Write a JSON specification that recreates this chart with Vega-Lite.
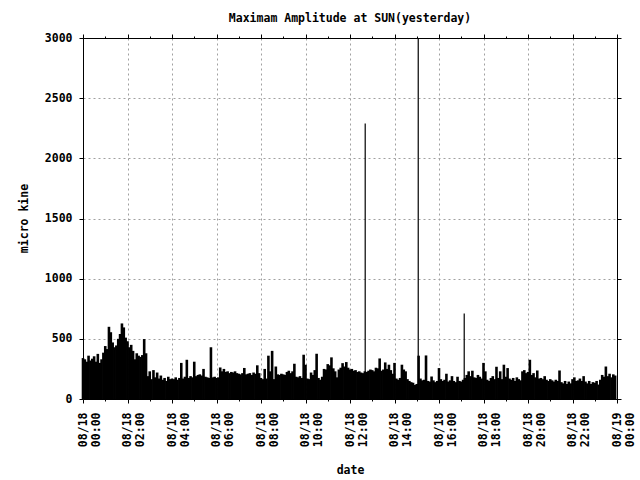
{
  "$schema": "https://vega.github.io/schema/vega-lite/v6.json",
  "width": 534,
  "height": 361,
  "autosize": {"type": "none"},
  "padding": {"left": 83, "top": 38, "right": 23, "bottom": 81},
  "background": "white",
  "title": {
    "text": "Maximam Amplitude at SUN(yesterday)",
    "anchor": "middle",
    "offset": 8,
    "font": "DejaVu Sans Mono",
    "fontSize": 11.5,
    "fontWeight": "bold",
    "color": "black"
  },
  "config": {
    "view": {"stroke": "black", "strokeWidth": 1},
    "axis": {
      "domainColor": "black",
      "tickColor": "black",
      "tickSize": 4,
      "gridColor": "#a0a0a0",
      "gridDash": [2, 3],
      "labelFont": "DejaVu Sans Mono",
      "labelFontSize": 11.5,
      "labelFontWeight": "bold",
      "labelColor": "black",
      "titleFont": "DejaVu Sans Mono",
      "titleFontSize": 11.5,
      "titleFontWeight": "bold",
      "titleColor": "black"
    }
  },
  "data": {
    "values": [
      {"t":"2024-08-18T00:00","v":340},{"t":"2024-08-18T00:05","v":330},{"t":"2024-08-18T00:10","v":310},{"t":"2024-08-18T00:15","v":360},{"t":"2024-08-18T00:20","v":320},{"t":"2024-08-18T00:25","v":335},{"t":"2024-08-18T00:30","v":355},{"t":"2024-08-18T00:35","v":310},{"t":"2024-08-18T00:40","v":375},{"t":"2024-08-18T00:45","v":300},{"t":"2024-08-18T00:50","v":330},{"t":"2024-08-18T00:55","v":385},
      {"t":"2024-08-18T01:00","v":440},{"t":"2024-08-18T01:05","v":415},{"t":"2024-08-18T01:10","v":600},{"t":"2024-08-18T01:15","v":555},{"t":"2024-08-18T01:20","v":470},{"t":"2024-08-18T01:25","v":430},{"t":"2024-08-18T01:30","v":445},{"t":"2024-08-18T01:35","v":500},{"t":"2024-08-18T01:40","v":540},{"t":"2024-08-18T01:45","v":628},{"t":"2024-08-18T01:50","v":595},{"t":"2024-08-18T01:55","v":510},
      {"t":"2024-08-18T02:00","v":480},{"t":"2024-08-18T02:05","v":430},{"t":"2024-08-18T02:10","v":450},{"t":"2024-08-18T02:15","v":400},{"t":"2024-08-18T02:20","v":330},{"t":"2024-08-18T02:25","v":380},{"t":"2024-08-18T02:30","v":360},{"t":"2024-08-18T02:35","v":350},{"t":"2024-08-18T02:40","v":365},{"t":"2024-08-18T02:45","v":498},{"t":"2024-08-18T02:50","v":380},{"t":"2024-08-18T02:55","v":190},
      {"t":"2024-08-18T03:00","v":230},{"t":"2024-08-18T03:05","v":165},{"t":"2024-08-18T03:10","v":240},{"t":"2024-08-18T03:15","v":180},{"t":"2024-08-18T03:20","v":220},{"t":"2024-08-18T03:25","v":170},{"t":"2024-08-18T03:30","v":195},{"t":"2024-08-18T03:35","v":160},{"t":"2024-08-18T03:40","v":175},{"t":"2024-08-18T03:45","v":150},{"t":"2024-08-18T03:50","v":185},{"t":"2024-08-18T03:55","v":165},
      {"t":"2024-08-18T04:00","v":170},{"t":"2024-08-18T04:05","v":165},{"t":"2024-08-18T04:10","v":180},{"t":"2024-08-18T04:15","v":160},{"t":"2024-08-18T04:20","v":175},{"t":"2024-08-18T04:25","v":300},{"t":"2024-08-18T04:30","v":170},{"t":"2024-08-18T04:35","v":185},{"t":"2024-08-18T04:40","v":326},{"t":"2024-08-18T04:45","v":175},{"t":"2024-08-18T04:50","v":190},{"t":"2024-08-18T04:55","v":180},
      {"t":"2024-08-18T05:00","v":310},{"t":"2024-08-18T05:05","v":190},{"t":"2024-08-18T05:10","v":200},{"t":"2024-08-18T05:15","v":205},{"t":"2024-08-18T05:20","v":195},{"t":"2024-08-18T05:25","v":250},{"t":"2024-08-18T05:30","v":185},{"t":"2024-08-18T05:35","v":180},{"t":"2024-08-18T05:40","v":175},{"t":"2024-08-18T05:45","v":430},{"t":"2024-08-18T05:50","v":180},{"t":"2024-08-18T05:55","v":185},
      {"t":"2024-08-18T06:00","v":175},{"t":"2024-08-18T06:05","v":180},{"t":"2024-08-18T06:10","v":262},{"t":"2024-08-18T06:15","v":230},{"t":"2024-08-18T06:20","v":250},{"t":"2024-08-18T06:25","v":225},{"t":"2024-08-18T06:30","v":230},{"t":"2024-08-18T06:35","v":215},{"t":"2024-08-18T06:40","v":225},{"t":"2024-08-18T06:45","v":220},{"t":"2024-08-18T06:50","v":230},{"t":"2024-08-18T06:55","v":215},
      {"t":"2024-08-18T07:00","v":210},{"t":"2024-08-18T07:05","v":205},{"t":"2024-08-18T07:10","v":215},{"t":"2024-08-18T07:15","v":258},{"t":"2024-08-18T07:20","v":205},{"t":"2024-08-18T07:25","v":210},{"t":"2024-08-18T07:30","v":215},{"t":"2024-08-18T07:35","v":200},{"t":"2024-08-18T07:40","v":220},{"t":"2024-08-18T07:45","v":210},{"t":"2024-08-18T07:50","v":280},{"t":"2024-08-18T07:55","v":215},
      {"t":"2024-08-18T08:00","v":175},{"t":"2024-08-18T08:05","v":165},{"t":"2024-08-18T08:10","v":250},{"t":"2024-08-18T08:15","v":170},{"t":"2024-08-18T08:20","v":360},{"t":"2024-08-18T08:25","v":230},{"t":"2024-08-18T08:30","v":400},{"t":"2024-08-18T08:35","v":165},{"t":"2024-08-18T08:40","v":270},{"t":"2024-08-18T08:45","v":205},{"t":"2024-08-18T08:50","v":200},{"t":"2024-08-18T08:55","v":210},
      {"t":"2024-08-18T09:00","v":205},{"t":"2024-08-18T09:05","v":200},{"t":"2024-08-18T09:10","v":225},{"t":"2024-08-18T09:15","v":235},{"t":"2024-08-18T09:20","v":215},{"t":"2024-08-18T09:25","v":230},{"t":"2024-08-18T09:30","v":293},{"t":"2024-08-18T09:35","v":185},{"t":"2024-08-18T09:40","v":180},{"t":"2024-08-18T09:45","v":190},{"t":"2024-08-18T09:50","v":175},{"t":"2024-08-18T09:55","v":368},
      {"t":"2024-08-18T10:00","v":285},{"t":"2024-08-18T10:05","v":170},{"t":"2024-08-18T10:10","v":165},{"t":"2024-08-18T10:15","v":220},{"t":"2024-08-18T10:20","v":200},{"t":"2024-08-18T10:25","v":240},{"t":"2024-08-18T10:30","v":376},{"t":"2024-08-18T10:35","v":175},{"t":"2024-08-18T10:40","v":160},{"t":"2024-08-18T10:45","v":185},{"t":"2024-08-18T10:50","v":250},{"t":"2024-08-18T10:55","v":245},
      {"t":"2024-08-18T11:00","v":290},{"t":"2024-08-18T11:05","v":280},{"t":"2024-08-18T11:10","v":346},{"t":"2024-08-18T11:15","v":255},{"t":"2024-08-18T11:20","v":230},{"t":"2024-08-18T11:25","v":180},{"t":"2024-08-18T11:30","v":245},{"t":"2024-08-18T11:35","v":260},{"t":"2024-08-18T11:40","v":298},{"t":"2024-08-18T11:45","v":270},{"t":"2024-08-18T11:50","v":307},{"t":"2024-08-18T11:55","v":260},
      {"t":"2024-08-18T12:00","v":245},{"t":"2024-08-18T12:05","v":250},{"t":"2024-08-18T12:10","v":235},{"t":"2024-08-18T12:15","v":240},{"t":"2024-08-18T12:20","v":225},{"t":"2024-08-18T12:25","v":230},{"t":"2024-08-18T12:30","v":220},{"t":"2024-08-18T12:35","v":215},{"t":"2024-08-18T12:40","v":230},{"t":"2024-08-18T12:41","v":2290},{"t":"2024-08-18T12:45","v":225},{"t":"2024-08-18T12:50","v":235},{"t":"2024-08-18T12:55","v":245},
      {"t":"2024-08-18T13:00","v":240},{"t":"2024-08-18T13:05","v":230},{"t":"2024-08-18T13:10","v":260},{"t":"2024-08-18T13:15","v":255},{"t":"2024-08-18T13:20","v":337},{"t":"2024-08-18T13:25","v":235},{"t":"2024-08-18T13:30","v":245},{"t":"2024-08-18T13:35","v":304},{"t":"2024-08-18T13:40","v":250},{"t":"2024-08-18T13:45","v":285},{"t":"2024-08-18T13:50","v":240},{"t":"2024-08-18T13:55","v":210},
      {"t":"2024-08-18T14:00","v":300},{"t":"2024-08-18T14:05","v":170},{"t":"2024-08-18T14:10","v":160},{"t":"2024-08-18T14:15","v":175},{"t":"2024-08-18T14:20","v":285},{"t":"2024-08-18T14:25","v":245},{"t":"2024-08-18T14:30","v":230},{"t":"2024-08-18T14:35","v":165},{"t":"2024-08-18T14:40","v":150},{"t":"2024-08-18T14:45","v":140},{"t":"2024-08-18T14:50","v":135},{"t":"2024-08-18T14:55","v":117},
      {"t":"2024-08-18T15:00","v":125},{"t":"2024-08-18T15:04","v":3000},{"t":"2024-08-18T15:05","v":360},{"t":"2024-08-18T15:10","v":170},{"t":"2024-08-18T15:15","v":155},{"t":"2024-08-18T15:20","v":160},{"t":"2024-08-18T15:25","v":362},{"t":"2024-08-18T15:30","v":150},{"t":"2024-08-18T15:35","v":145},{"t":"2024-08-18T15:40","v":187},{"t":"2024-08-18T15:45","v":155},{"t":"2024-08-18T15:50","v":140},{"t":"2024-08-18T15:55","v":150},
      {"t":"2024-08-18T16:00","v":257},{"t":"2024-08-18T16:05","v":165},{"t":"2024-08-18T16:10","v":150},{"t":"2024-08-18T16:15","v":160},{"t":"2024-08-18T16:20","v":210},{"t":"2024-08-18T16:25","v":145},{"t":"2024-08-18T16:30","v":155},{"t":"2024-08-18T16:35","v":190},{"t":"2024-08-18T16:40","v":150},{"t":"2024-08-18T16:45","v":140},{"t":"2024-08-18T16:50","v":185},{"t":"2024-08-18T16:55","v":150},
      {"t":"2024-08-18T17:00","v":145},{"t":"2024-08-18T17:05","v":160},{"t":"2024-08-18T17:08","v":711},{"t":"2024-08-18T17:10","v":175},{"t":"2024-08-18T17:15","v":200},{"t":"2024-08-18T17:20","v":230},{"t":"2024-08-18T17:25","v":190},{"t":"2024-08-18T17:30","v":235},{"t":"2024-08-18T17:35","v":180},{"t":"2024-08-18T17:40","v":175},{"t":"2024-08-18T17:45","v":200},{"t":"2024-08-18T17:50","v":185},{"t":"2024-08-18T17:55","v":170},
      {"t":"2024-08-18T18:00","v":300},{"t":"2024-08-18T18:05","v":230},{"t":"2024-08-18T18:10","v":160},{"t":"2024-08-18T18:15","v":150},{"t":"2024-08-18T18:20","v":175},{"t":"2024-08-18T18:25","v":190},{"t":"2024-08-18T18:30","v":165},{"t":"2024-08-18T18:35","v":268},{"t":"2024-08-18T18:40","v":175},{"t":"2024-08-18T18:45","v":230},{"t":"2024-08-18T18:50","v":165},{"t":"2024-08-18T18:55","v":285},
      {"t":"2024-08-18T19:00","v":185},{"t":"2024-08-18T19:05","v":257},{"t":"2024-08-18T19:10","v":170},{"t":"2024-08-18T19:15","v":160},{"t":"2024-08-18T19:20","v":175},{"t":"2024-08-18T19:25","v":150},{"t":"2024-08-18T19:30","v":180},{"t":"2024-08-18T19:35","v":165},{"t":"2024-08-18T19:40","v":155},{"t":"2024-08-18T19:45","v":230},{"t":"2024-08-18T19:50","v":240},{"t":"2024-08-18T19:55","v":215},
      {"t":"2024-08-18T20:00","v":225},{"t":"2024-08-18T20:05","v":326},{"t":"2024-08-18T20:10","v":200},{"t":"2024-08-18T20:15","v":215},{"t":"2024-08-18T20:20","v":180},{"t":"2024-08-18T20:25","v":237},{"t":"2024-08-18T20:30","v":170},{"t":"2024-08-18T20:35","v":175},{"t":"2024-08-18T20:40","v":165},{"t":"2024-08-18T20:45","v":190},{"t":"2024-08-18T20:50","v":160},{"t":"2024-08-18T20:55","v":150},
      {"t":"2024-08-18T21:00","v":165},{"t":"2024-08-18T21:05","v":155},{"t":"2024-08-18T21:10","v":145},{"t":"2024-08-18T21:15","v":160},{"t":"2024-08-18T21:20","v":150},{"t":"2024-08-18T21:25","v":237},{"t":"2024-08-18T21:30","v":140},{"t":"2024-08-18T21:35","v":130},{"t":"2024-08-18T21:40","v":150},{"t":"2024-08-18T21:45","v":125},{"t":"2024-08-18T21:50","v":145},{"t":"2024-08-18T21:55","v":130},
      {"t":"2024-08-18T22:00","v":165},{"t":"2024-08-18T22:05","v":180},{"t":"2024-08-18T22:10","v":150},{"t":"2024-08-18T22:15","v":155},{"t":"2024-08-18T22:20","v":170},{"t":"2024-08-18T22:25","v":150},{"t":"2024-08-18T22:30","v":190},{"t":"2024-08-18T22:35","v":145},{"t":"2024-08-18T22:40","v":130},{"t":"2024-08-18T22:45","v":150},{"t":"2024-08-18T22:50","v":125},{"t":"2024-08-18T22:55","v":140},
      {"t":"2024-08-18T23:00","v":135},{"t":"2024-08-18T23:05","v":150},{"t":"2024-08-18T23:10","v":120},{"t":"2024-08-18T23:15","v":160},{"t":"2024-08-18T23:20","v":200},{"t":"2024-08-18T23:25","v":185},{"t":"2024-08-18T23:30","v":270},{"t":"2024-08-18T23:35","v":190},{"t":"2024-08-18T23:40","v":210},{"t":"2024-08-18T23:45","v":180},{"t":"2024-08-18T23:50","v":205},{"t":"2024-08-18T23:55","v":195}
    ]
  },
  "layer": [
    {
      "mark": {"type": "rule", "color": "black"},
      "encoding": {
        "x": {
          "field": "t",
          "type": "temporal",
          "scale": {"domain": [{"year": 2024, "month": 8, "date": 18}, {"year": 2024, "month": 8, "date": 19}]},
          "axis": {
            "title": "date",
            "values": [
              {"year": 2024, "month": 8, "date": 18, "hours": 0},
              {"year": 2024, "month": 8, "date": 18, "hours": 1},
              {"year": 2024, "month": 8, "date": 18, "hours": 2},
              {"year": 2024, "month": 8, "date": 18, "hours": 3},
              {"year": 2024, "month": 8, "date": 18, "hours": 4},
              {"year": 2024, "month": 8, "date": 18, "hours": 5},
              {"year": 2024, "month": 8, "date": 18, "hours": 6},
              {"year": 2024, "month": 8, "date": 18, "hours": 7},
              {"year": 2024, "month": 8, "date": 18, "hours": 8},
              {"year": 2024, "month": 8, "date": 18, "hours": 9},
              {"year": 2024, "month": 8, "date": 18, "hours": 10},
              {"year": 2024, "month": 8, "date": 18, "hours": 11},
              {"year": 2024, "month": 8, "date": 18, "hours": 12},
              {"year": 2024, "month": 8, "date": 18, "hours": 13},
              {"year": 2024, "month": 8, "date": 18, "hours": 14},
              {"year": 2024, "month": 8, "date": 18, "hours": 15},
              {"year": 2024, "month": 8, "date": 18, "hours": 16},
              {"year": 2024, "month": 8, "date": 18, "hours": 17},
              {"year": 2024, "month": 8, "date": 18, "hours": 18},
              {"year": 2024, "month": 8, "date": 18, "hours": 19},
              {"year": 2024, "month": 8, "date": 18, "hours": 20},
              {"year": 2024, "month": 8, "date": 18, "hours": 21},
              {"year": 2024, "month": 8, "date": 18, "hours": 22},
              {"year": 2024, "month": 8, "date": 18, "hours": 23},
              {"year": 2024, "month": 8, "date": 19, "hours": 0}
            ],
            "labelExpr": "hours(datum.value) % 2 == 0 ? [timeFormat(datum.value, '%m/%d'), timeFormat(datum.value, '%H:%M')] : ''",
            "labelAngle": 270,
            "labelAlign": "right",
            "labelBaseline": "middle",
            "labelLineHeight": 13,
            "labelPadding": 9,
            "labelOverlap": false,
            "labelFlush": false,
            "tickDash": {"condition": {"test": "hours(datum.value) % 2 == 0", "value": [4, 0]}, "value": [2, 10]},
            "gridOpacity": {"condition": {"test": "hours(datum.value) % 2 == 0", "value": 1}, "value": 0},
            "titleX": 267,
            "titleY": 71,
            "titleAlign": "center",
            "titleBaseline": "middle"
          }
        },
        "y": {
          "field": "v",
          "type": "quantitative",
          "scale": {"domain": [0, 3000], "nice": false},
          "axis": {
            "title": "micro kine",
            "format": "d",
            "values": [0, 500, 1000, 1500, 2000, 2500, 3000],
            "labelPadding": 7,
            "titleX": -59,
            "titleY": 180,
            "titleAngle": 270,
            "titleAlign": "center",
            "titleBaseline": "middle"
          }
        },
        "y2": {"datum": 0},
        "strokeWidth": {"condition": {"test": "datum.v > 650", "value": 1.2}, "value": 2.6}
      }
    },
    {
      "mark": {"type": "rule", "color": "black", "opacity": 0},
      "encoding": {
        "x": {
          "field": "t",
          "type": "temporal",
          "axis": {
            "orient": "top",
            "title": null,
            "labels": false,
            "grid": false,
            "values": [
              {"year": 2024, "month": 8, "date": 18, "hours": 0},
              {"year": 2024, "month": 8, "date": 18, "hours": 1},
              {"year": 2024, "month": 8, "date": 18, "hours": 2},
              {"year": 2024, "month": 8, "date": 18, "hours": 3},
              {"year": 2024, "month": 8, "date": 18, "hours": 4},
              {"year": 2024, "month": 8, "date": 18, "hours": 5},
              {"year": 2024, "month": 8, "date": 18, "hours": 6},
              {"year": 2024, "month": 8, "date": 18, "hours": 7},
              {"year": 2024, "month": 8, "date": 18, "hours": 8},
              {"year": 2024, "month": 8, "date": 18, "hours": 9},
              {"year": 2024, "month": 8, "date": 18, "hours": 10},
              {"year": 2024, "month": 8, "date": 18, "hours": 11},
              {"year": 2024, "month": 8, "date": 18, "hours": 12},
              {"year": 2024, "month": 8, "date": 18, "hours": 13},
              {"year": 2024, "month": 8, "date": 18, "hours": 14},
              {"year": 2024, "month": 8, "date": 18, "hours": 15},
              {"year": 2024, "month": 8, "date": 18, "hours": 16},
              {"year": 2024, "month": 8, "date": 18, "hours": 17},
              {"year": 2024, "month": 8, "date": 18, "hours": 18},
              {"year": 2024, "month": 8, "date": 18, "hours": 19},
              {"year": 2024, "month": 8, "date": 18, "hours": 20},
              {"year": 2024, "month": 8, "date": 18, "hours": 21},
              {"year": 2024, "month": 8, "date": 18, "hours": 22},
              {"year": 2024, "month": 8, "date": 18, "hours": 23},
              {"year": 2024, "month": 8, "date": 19, "hours": 0}
            ],
            "tickDash": {"condition": {"test": "hours(datum.value) % 2 == 0", "value": [4, 0]}, "value": [2, 10]}
          }
        },
        "y": {
          "field": "v",
          "type": "quantitative",
          "axis": {
            "orient": "right",
            "title": null,
            "labels": false,
            "grid": false,
            "values": [0, 500, 1000, 1500, 2000, 2500, 3000]
          }
        },
        "y2": {"datum": 0}
      }
    }
  ],
  "resolve": {"axis": {"x": "independent", "y": "independent"}}
}
